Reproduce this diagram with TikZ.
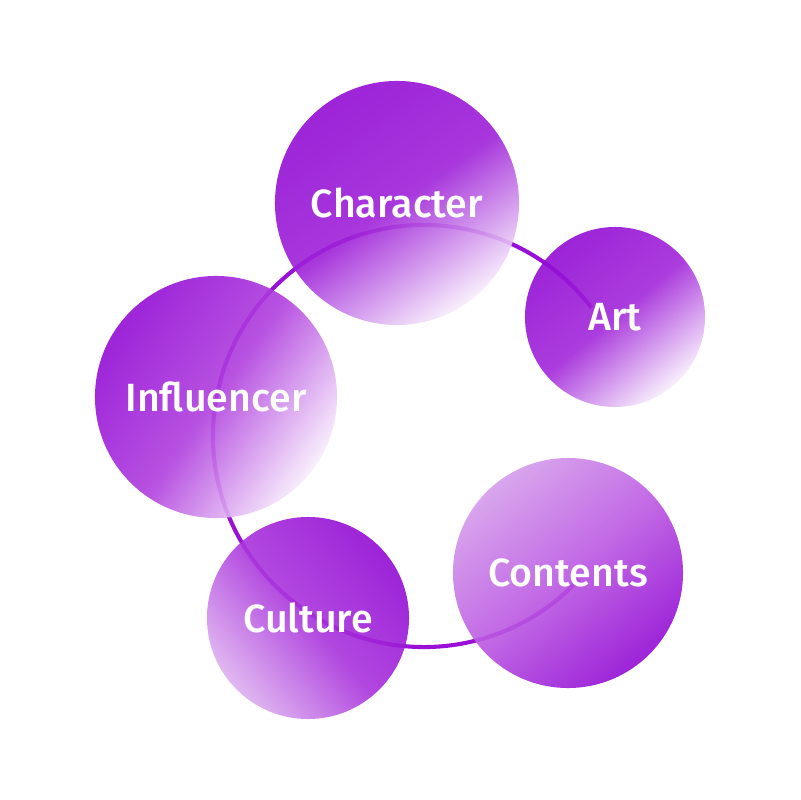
\documentclass[tikz,border=0pt]{standalone}
\usepackage{fontspec}
\setmainfont{Fira Sans Medium}
\usepackage{tikz}
\definecolor{bubDark}{HTML}{920CD4}
\definecolor{bubMid}{HTML}{B548E0}
\definecolor{bubLight}{HTML}{F8EEFC}
\definecolor{bubSoft}{HTML}{D49CEB}
\definecolor{ringCol}{HTML}{9A10D6}

\begin{document}
\begin{tikzpicture}[x=0.025cm, y=-0.025cm,
  bub/.style={circle, inner sep=0pt, fill opacity=0.9, text opacity=1,
    text=white, font=\fontsize{28}{30}\selectfont},
  ring/.style={draw=ringCol, line width=2.9pt}]
\useasboundingbox (0,0) rectangle (800,800);
% --- ring behind the bubbles ---
\coordinate (ctr) at (424,436);
\draw[ring] ([shift={(37.5:5.275cm)}]ctr)
  arc[start angle=37.5, end angle=317.3, radius=5.275cm];
% --- bubbles ---
\node[bub, minimum size=6.1cm, top color=bubDark, bottom color=bubLight,
  middle color=bubDark!65!bubMid, shading angle=35] (character) at (397,203) {Character};
\node[bub, minimum size=4.5cm, top color=bubDark, bottom color=bubLight,
  middle color=bubDark!55!bubMid, shading angle=40] (art) at (615,317) {Art};
\node[bub, minimum size=6.05cm, top color=bubDark, bottom color=bubLight,
  middle color=bubMid!85!bubDark, shading angle=55] (influencer) at (216,397) {Influencer};
\node[bub, minimum size=5.05cm, top color=bubDark, bottom color=bubSoft!80!white,
  middle color=bubMid!65!bubDark, shading angle=-50] (culture) at (308,618) {Culture};
\node[bub, minimum size=5.75cm, top color=bubSoft, bottom color=bubDark,
  middle color=bubMid!80!bubSoft, shading angle=40] (contents) at (568,573) {Contents};
\end{tikzpicture}
\end{document}
